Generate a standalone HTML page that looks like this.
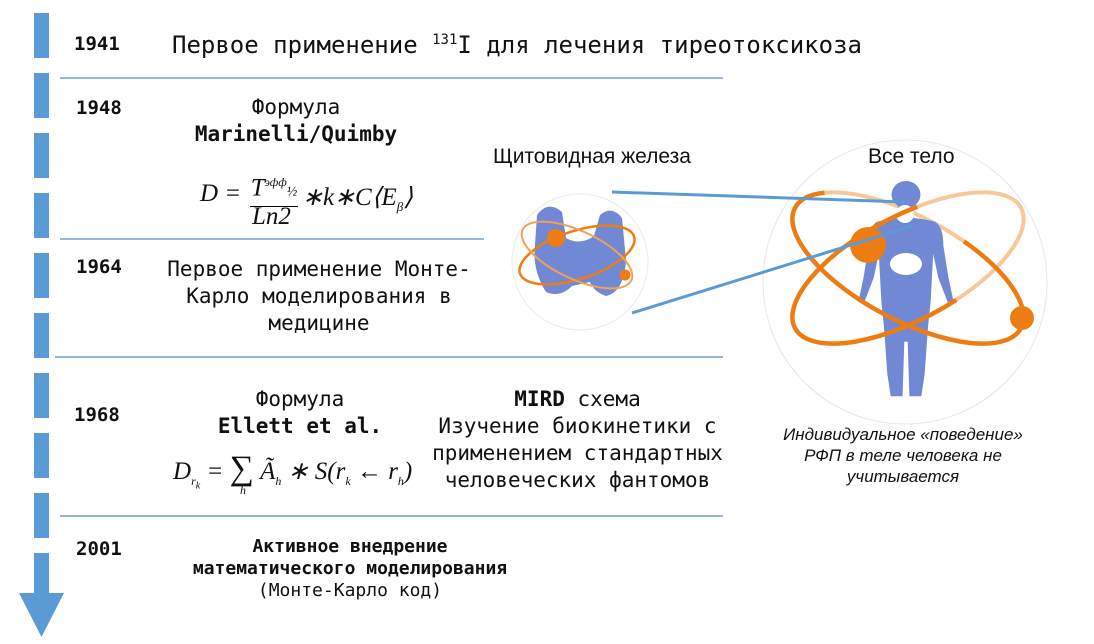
<!DOCTYPE html>
<html><head><meta charset="utf-8"><style>
body{margin:0;width:1094px;height:644px;background:#fff;position:relative;overflow:hidden;font-family:"DejaVu Sans Mono","Liberation Mono",monospace;color:#111}
.a{position:absolute;white-space:nowrap}
.y{font-weight:bold;font-size:19px}
.c{text-align:center;font-size:21px;line-height:27px}
.f{font-family:"Liberation Serif",serif;font-style:italic;font-size:25px}
.s{font-family:"Liberation Sans","DejaVu Sans",sans-serif}
</style></head><body>
<svg class="a" style="left:0;top:0" width="1094" height="644">
<g fill="#5b9bd5">
<rect x="34" y="13" width="15" height="45"/><rect x="34" y="73" width="15" height="45"/><rect x="34" y="133" width="15" height="45"/><rect x="34" y="193" width="15" height="45"/><rect x="34" y="253" width="15" height="45"/><rect x="34" y="313" width="15" height="45"/><rect x="34" y="373" width="15" height="45"/><rect x="34" y="433" width="15" height="45"/><rect x="34" y="493" width="15" height="45"/><rect x="34" y="553" width="15" height="42"/>
<polygon points="19,593 64,593 41.5,637"/>
</g>
<g stroke="#6fa0d3" stroke-width="1.5">
<line x1="60" y1="78" x2="723" y2="78"/><line x1="60" y1="239" x2="484" y2="239"/><line x1="55" y1="357" x2="723" y2="357"/><line x1="60" y1="516" x2="723" y2="516"/>
</g>
<!-- big circle -->
<circle cx="905" cy="282" r="142" fill="#fff" stroke="#e6e6e6"/>
<ellipse cx="908" cy="268" rx="128" ry="52" transform="rotate(28 908 268)" fill="none" stroke="#f6c89a" stroke-width="4"/>
<ellipse cx="908" cy="268" rx="128" ry="52" transform="rotate(-28 908 268)" fill="none" stroke="#f6c89a" stroke-width="4"/>
<!-- body -->
<g transform="translate(906,181) scale(0.85,0.8) translate(-906,-179)" fill="#7189d4">
<circle cx="906" cy="196" r="17"/>
<rect x="897" y="205" width="18" height="22"/>
<path d="M872 230 Q906 220 940 230 Q950 236 950 260 L956 300 L962 330 L956 333 L944 300 L938 270 L935 330 L932 360 L928 420 L924 448 L910 448 L908 380 L904 380 L902 448 L888 448 L884 420 L880 360 L877 330 L874 270 L868 300 L856 333 L850 330 L856 300 L862 260 Q862 236 872 230Z"/>
</g>
<ellipse cx="905" cy="214" rx="9" ry="9" fill="#fff"/>
<ellipse cx="906" cy="264" rx="16" ry="11" fill="#fff"/>
<ellipse cx="908" cy="268" rx="128" ry="52" transform="rotate(28 908 268)" fill="none" stroke="#ed7d12" stroke-width="4.5" stroke-dasharray="330 150 400 0"/>
<ellipse cx="908" cy="268" rx="128" ry="52" transform="rotate(-28 908 268)" fill="none" stroke="#ed7d12" stroke-width="4.5" stroke-dasharray="0 120 360 200"/>
<circle cx="868" cy="245" r="18" fill="#ed7d12"/>
<circle cx="1022" cy="318" r="12" fill="#ed7d12"/>
<!-- thyroid -->
<circle cx="580" cy="262" r="68" fill="#fff" stroke="#eaeaea"/>
<path d="M537 215 Q548 200 562 212 L566 238 Q580 246 594 236 L600 215 Q612 205 622 218 L626 260 Q624 292 606 296 Q594 292 590 282 L572 286 Q560 298 546 292 Q532 270 535 245Z" fill="#7189d4"/>
<ellipse cx="577" cy="255" rx="60" ry="24" transform="rotate(-18 577 255)" fill="none" stroke="#ed7d12" stroke-width="2.5"/>
<ellipse cx="577" cy="255" rx="60" ry="24" transform="rotate(25 577 255)" fill="none" stroke="#f2a054" stroke-width="2"/>
<circle cx="556" cy="238" r="9" fill="#ed7d12"/>
<circle cx="625" cy="275" r="5.5" fill="#ed7d12"/>
<g stroke="#5b9bd5" stroke-width="3"><line x1="612" y1="192" x2="905" y2="202"/><line x1="632" y1="313" x2="912" y2="226"/></g>
</svg>

<div class="a y" style="left:74px;top:33px">1941</div>
<div class="a" style="left:172px;top:31px;font-size:24px">Первое применение <sup style="font-size:14px">131</sup>I для лечения тиреотоксикоза</div>

<div class="a y" style="left:76px;top:97px">1948</div>
<div class="a c" style="left:160px;width:272px;top:94px">Формула<br><b>Marinelli/Quimby</b></div>
<div class="a f" style="left:200px;top:180px">D =</div>
<div class="a f" style="left:250px;top:168px;width:48px;border-bottom:1px solid #000;text-align:center;line-height:28px">T<sup style="font-size:12px">эфф</sup><span style="font-size:14px">½</span></div>
<div class="a f" style="left:252px;top:203px">Ln2</div>
<div class="a f" style="left:302px;top:182px">∗k∗C⟨E<sub style="font-size:13px">β</sub>⟩</div>

<div class="a y" style="left:76px;top:256px">1964</div>
<div class="a c" style="left:150px;width:338px;top:256px">Первое применение Монте-<br>Карло моделирования в<br>медицине</div>

<div class="a y" style="left:74px;top:404px">1968</div>
<div class="a c" style="left:180px;width:240px;top:386px">Формула<br><b>Ellett et al.</b></div>
<div class="a f" style="left:173px;top:450px">D<sub style="font-size:12px">r<sub>k</sub></sub> = <span style="font-size:34px;font-style:normal">∑</span> Ã<sub style="font-size:12px">h</sub> ∗ S(r<sub style="font-size:12px">k</sub> ← r<sub style="font-size:12px">h</sub>)</div>
<div class="a f" style="left:240px;top:483px;font-size:12px">h</div>
<div class="a c" style="left:400px;width:355px;top:386px"><b>MIRD</b> схема<br>Изучение биокинетики с<br>применением стандартных<br>человеческих фантомов</div>

<div class="a y" style="left:76px;top:538px">2001</div>
<div class="a c" style="left:150px;width:400px;top:536px;font-size:18px;line-height:22px"><b>Активное внедрение<br>математического моделирования</b><br>(Монте-Карло код)</div>

<div class="a s" style="left:493px;top:145px;font-size:21px">Щитовидная железа</div>
<div class="a s" style="left:868px;top:145px;font-size:21px">Все тело</div>
<div class="a s" style="left:755px;top:424px;width:296px;text-align:center;font-style:italic;font-size:17px;line-height:21px">Индивидуальное «поведение»<br>РФП в теле человека не<br>учитывается</div>
</body></html>
